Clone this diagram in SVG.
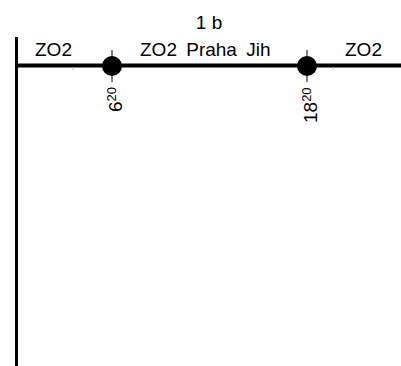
<svg xmlns="http://www.w3.org/2000/svg" width="401" height="366" viewBox="0 0 401 366">
<style>
text{font-family:"Liberation Sans",Arial,sans-serif;fill:#000}
.lbl{font-size:19px}
.sup{font-size:13px}
.tick{stroke:#000;stroke-width:1}
</style>
<rect width="401" height="366" fill="#fff"/>
<g id="title"><text class="lbl" x="209" y="29" text-anchor="middle">1 b</text></g>
<g id="connectors">
<line x1="16.5" y1="37" x2="16.5" y2="366" stroke="#000" stroke-width="3"/>
<line x1="15" y1="65.5" x2="401" y2="65.5" stroke="#000" stroke-width="4"/>
<line x1="73" y1="67" x2="73" y2="70" stroke="#bbb" stroke-width="1"/>
<line x1="333" y1="67" x2="333" y2="70" stroke="#bbb" stroke-width="1"/>
</g>
<g id="seg1"><text class="lbl" x="35" y="56">ZO2</text></g>
<g id="seg2"><text class="lbl" x="140" y="56" word-spacing="4">ZO2 Praha Jih</text></g>
<g id="seg3"><text class="lbl" x="345" y="56">ZO2</text></g>
<g id="node1">
<line class="tick" x1="112" y1="50" x2="112" y2="82"/>
<circle cx="112" cy="66" r="10" fill="#000"/>
<text transform="translate(121.5,112) rotate(-90)"><tspan class="lbl">6</tspan><tspan class="sup" dy="-6">20</tspan></text>
</g>
<g id="node2">
<line class="tick" x1="307" y1="50" x2="307" y2="82"/>
<circle cx="307" cy="66" r="10" fill="#000"/>
<text transform="translate(316.5,123) rotate(-90)"><tspan class="lbl">18</tspan><tspan class="sup" dy="-6">20</tspan></text>
</g>
</svg>
